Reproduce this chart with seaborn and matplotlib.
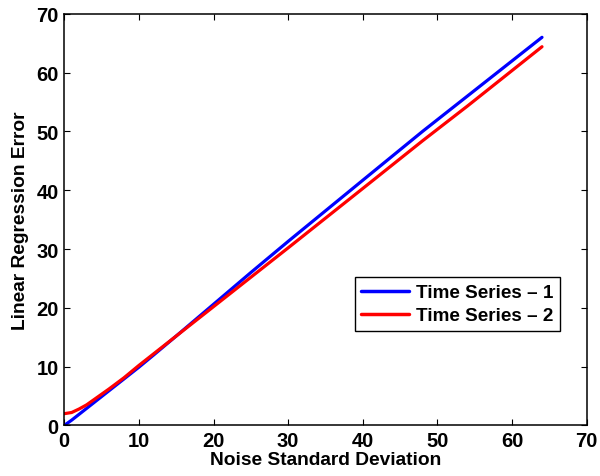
import matplotlib
matplotlib.use("Agg")
import matplotlib.pyplot as plt
import seaborn as sns
import pandas as pd

# Noise levels and the regression error measured for each series
noise_std = [0, 1, 2, 3, 4, 6, 8, 10, 12, 15, 20, 25, 30, 40, 48, 54, 64]
error_ts1 = [0.0, 0.9, 1.9, 2.9, 3.9, 5.9, 7.9, 9.9, 12.0, 15.2, 20.6, 26.0, 31.3, 41.7, 50.0, 56.0, 66.0]
error_ts2 = [2.0, 2.2, 2.8, 3.5, 4.4, 6.2, 8.1, 10.2, 12.2, 15.2, 20.2, 25.2, 30.2, 40.3, 48.4, 54.3, 64.4]
series_names = ["Time Series \u2013 1", "Time Series \u2013 2"]
x_ticks = [0, 10, 20, 30, 40, 50, 60, 70]
y_ticks = [0, 10, 20, 30, 40, 50, 60, 70]

df = pd.DataFrame({
    "noise": noise_std * 2,
    "error": error_ts1 + error_ts2,
    "series": [series_names[0]] * len(noise_std) + [series_names[1]] * len(noise_std),
})

sns.set_theme(style="ticks")
plt.rcParams["font.family"] = ["Liberation Sans", "DejaVu Sans"]
plt.rcParams["font.weight"] = "bold"
plt.rcParams["text.color"] = "black"
plt.rcParams["axes.labelcolor"] = "black"
plt.rcParams["xtick.color"] = "black"
plt.rcParams["ytick.color"] = "black"

fig = plt.figure(figsize=(6.0, 4.77), dpi=100)
ax = fig.add_axes([0.107, 0.106, 0.871, 0.863])

sns.lineplot(data=df, x="noise", y="error", hue="series",
             palette=["#0000ff", "#ff0000"], linewidth=2.3, ax=ax,
             legend=True)

ax.set_xlim(0, 70)
ax.set_ylim(0, 70)
ax.set_xticks(x_ticks)
ax.set_yticks(y_ticks)
ax.tick_params(direction="in", length=4, width=0.8, top=True, right=True,
               labelsize=14.5, colors="black", pad=4)
for lab in ax.get_xticklabels() + ax.get_yticklabels():
    lab.set_fontweight("bold")
for sp in ax.spines.values():
    sp.set_visible(True)
    sp.set_linewidth(1.1)
    sp.set_color("black")

ax.set_xlabel("Noise Standard Deviation", fontsize=13.8, fontweight="bold",
              labelpad=1, color="black")
ax.set_ylabel("Linear Regression Error", fontsize=13.8, fontweight="bold",
              labelpad=5, color="black")

leg = ax.legend(loc="lower left", bbox_to_anchor=(0.556, 0.23), fontsize=13.6,
                frameon=True, fancybox=False, borderpad=0.35, labelspacing=0.3,
                handlelength=2.5, handletextpad=0.4, borderaxespad=0)
leg.get_frame().set_edgecolor("black")
leg.get_frame().set_linewidth(1.0)
leg.get_frame().set_alpha(1)
for t in leg.get_texts():
    t.set_fontweight("bold")
    t.set_color("black")
for h in leg.get_lines():
    h.set_linewidth(2.5)

fig.savefig("out.png", dpi=100)
